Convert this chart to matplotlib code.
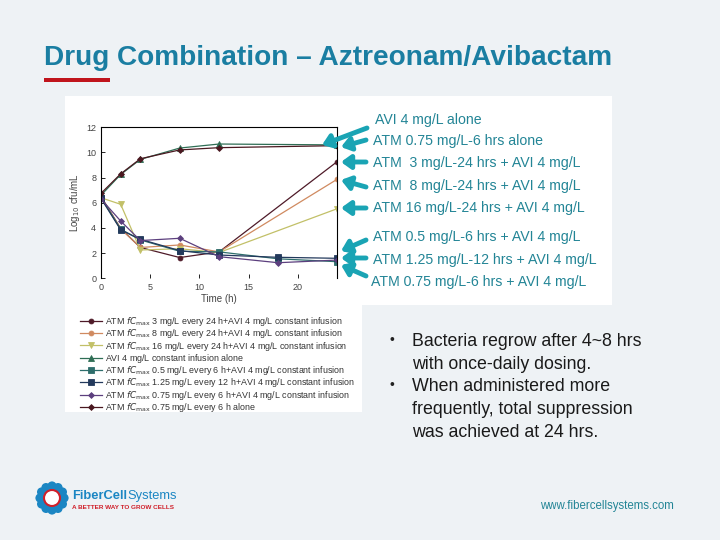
import numpy as np
import matplotlib.pyplot as plt
from matplotlib.patches import Rectangle, Circle

# time points (h)
t_daily = [0, 2, 4, 8, 12, 24]
t_freq = [0, 2, 4, 8, 12, 18, 24]

atm3_avi = [6.5, 3.95, 2.45, 1.65, 2.1, 9.27]
atm8_avi = [6.45, 3.95, 2.45, 2.65, 2.1, 7.87]
atm16_avi = [6.4, 5.88, 2.25, 2.35, 2.05, 5.53]
avi_alone = [6.6, 8.25, 9.45, 10.35, 10.67, 10.6]
atm05_q6_avi = [6.4, 3.9, 3.05, 2.15, 2.1, 1.55, 1.32]
atm125_q12_avi = [6.35, 3.85, 3.1, 2.2, 1.85, 1.67, 1.59]
atm075_q6_avi = [6.3, 4.55, 3.0, 3.18, 1.72, 1.24, 1.45]
atm075_alone = [6.75, 8.3, 9.5, 10.2, 10.38, 10.54]

labels = [
    r"ATM $fC_{\rm max}$ 3 mg/L every 24 h+AVI 4 mg/L constant infusion",
    r"ATM $fC_{\rm max}$ 8 mg/L every 24 h+AVI 4 mg/L constant infusion",
    r"ATM $fC_{\rm max}$ 16 mg/L every 24 h+AVI 4 mg/L constant infusion",
    r"AVI 4 mg/L constant infusion alone$_{\rm\ }$",
    r"ATM $fC_{\rm max}$ 0.5 mg/L every 6 h+AVI 4 mg/L constant infusion",
    r"ATM $fC_{\rm max}$ 1.25 mg/L every 12 h+AVI 4 mg/L constant infusion",
    r"ATM $fC_{\rm max}$ 0.75 mg/L every 6 h+AVI 4 mg/L constant infusion",
    r"ATM $fC_{\rm max}$ 0.75 mg/L every 6 h alone",
]

callouts = [
    "AVI 4 mg/L alone",
    "ATM 0.75 mg/L-6 hrs alone",
    "ATM  3 mg/L-24 hrs + AVI 4 mg/L",
    "ATM  8 mg/L-24 hrs + AVI 4 mg/L",
    "ATM 16 mg/L-24 hrs + AVI 4 mg/L",
    "ATM 0.5 mg/L-6 hrs + AVI 4 mg/L",
    "ATM 1.25 mg/L-12 hrs + AVI 4 mg/L",
    "ATM 0.75 mg/L-6 hrs + AVI 4 mg/L",
]

bullets = [
    "Bacteria regrow after 4~8 hrs\nwith once-daily dosing.",
    "When administered more\nfrequently, total suppression\nwas achieved at 24 hrs.",
]

plt.rcParams['font.family'] = ['Liberation Sans', 'DejaVu Sans']

fig = plt.figure(figsize=(7.2, 5.4), dpi=100)
fig.patch.set_facecolor('#eef2f5')

# background / decoration layer in pixel coords
bg = fig.add_axes([0, 0, 1, 1], zorder=0)
bg.set_xlim(0, 720)
bg.set_ylim(540, 0)
bg.axis('off')
bg.add_patch(Rectangle((65, 96), 547, 209, color='white', lw=0))
bg.add_patch(Rectangle((65, 300), 297, 112, color='white', lw=0))
bg.add_patch(Rectangle((44, 78), 66, 4, color='#c0141c', lw=0))
bg.text(44, 58, "Drug Combination \u2013 Aztreonam/Avibactam", fontsize=20.2,
        fontweight='bold', color='#1a7ea2', va='center', ha='left')

# chart
ax = fig.add_axes([0.1403, 0.4846, 0.328, 0.2797], zorder=1)
ax.patch.set_alpha(0)
styles = [
    (t_daily, atm3_avi, '#4e1a28', 'o', 3.5),
    (t_daily, atm8_avi, '#d08a60', 'o', 3.5),
    (t_daily, atm16_avi, '#c2c068', 'v', 4),
    (t_daily, avi_alone, '#2f6e55', '^', 4),
    (t_freq, atm05_q6_avi, '#2e6e6c', 's', 4),
    (t_freq, atm125_q12_avi, '#23395c', 's', 4),
    (t_freq, atm075_q6_avi, '#5c3f7e', 'D', 3),
    (t_daily, atm075_alone, '#4a1820', 'D', 3),
]
for (tx, ty, c, m, ms), lab in zip(styles, labels):
    ax.plot(tx, ty, color=c, marker=m, ms=ms, lw=0.9, label=lab,
            markeredgecolor=c, markeredgewidth=0.6)
ax.set_xlim(0, 24)
ax.set_ylim(0, 12)
ax.set_xticks([0, 5, 10, 15, 20])
ax.set_yticks(range(0, 13, 2))
ax.spines['bottom'].set_visible(False)
for s in ['left', 'top', 'right']:
    ax.spines[s].set_linewidth(0.8)
ax.tick_params(labelsize=6.5, labelcolor='#444444', direction='in', length=3, width=0.6)
ax.set_xlabel("Time (h)", fontsize=7, color='#444444', labelpad=1)
ax.set_ylabel(r"Log$_{10}$ cfu/mL", fontsize=7, color='#444444', labelpad=3)
ax.legend(loc='upper left', bbox_to_anchor=(80 / 720, 1 - 315 / 540),
          bbox_transform=fig.transFigure, frameon=False, fontsize=6.4,
          labelspacing=-0.08, handlelength=2.5, handletextpad=0.3,
          borderaxespad=0, borderpad=0, labelcolor='#333333')

# overlay: callouts, arrows, bullets, logo
ov = fig.add_axes([0, 0, 1, 1], zorder=2)
ov.set_xlim(0, 720)
ov.set_ylim(540, 0)
ov.axis('off')
ov.patch.set_alpha(0)

text_y = [120, 141, 163, 186, 208, 237, 260, 282]
text_x = [375, 373, 373, 373, 373, 373, 373, 371]
for s, x, y in zip(callouts, text_x, text_y):
    ov.text(x, y, s, fontsize=10.2, color='#238596', va='center', ha='left')

arrows = [((367, 128), (322, 145)), ((366, 140), (341, 147)),
          ((366, 162), (341, 162)), ((366, 187), (341, 180)),
          ((366, 208), (341, 208)), ((366, 240), (341, 251)),
          ((366, 258), (341, 258)), ((366, 276), (341, 265))]
for (x0, y0), (x1, y1) in arrows:
    ov.annotate("", xy=(x1, y1), xytext=(x0, y0),
                arrowprops=dict(arrowstyle='-|>,head_length=0.55,head_width=0.4',
                                color='#1aa4b4', lw=3.5, shrinkA=0, shrinkB=0))

bullet_y = [340, 385]
for s, y in zip(bullets, bullet_y):
    ov.text(390, y, "\u2022", fontsize=10, color='#222222', va='center', ha='left')
    ov.text(412, y - 7, s, fontsize=12.8, color='#1a1a1a', va='top', ha='left',
            linespacing=1.48)

# logo
for ang in np.linspace(0, 2 * np.pi, 12, endpoint=False):
    ov.add_patch(Circle((52 + 12 * np.cos(ang), 498 + 12 * np.sin(ang)), 4.6,
                        color='#1b86c3', lw=0))
ov.add_patch(Circle((52, 498), 8, facecolor='white', edgecolor='#d0202a', lw=1.5))
t1 = ov.text(72, 496, "FiberCell", fontsize=9.3, color='#1b86c3', fontweight='bold',
             va='center', ha='left')
fig.canvas.draw()
bb = t1.get_window_extent()
x_end = ov.transData.inverted().transform((bb.x1, bb.y0))[0]
ov.text(x_end + 0.5, 496, "Systems", fontsize=9.3, color='#1b86c3', va='center', ha='left')
ov.text(72, 507.5, "A BETTER WAY TO GROW CELLS", fontsize=4.6, color='#d0202a',
        fontweight='bold', va='center', ha='left')
ov.text(540, 506, "www.fibercellsystems.com", fontsize=8.3, color='#238596',
        va='center', ha='left')

fig.savefig("out.png", dpi=100, facecolor=fig.get_facecolor())
